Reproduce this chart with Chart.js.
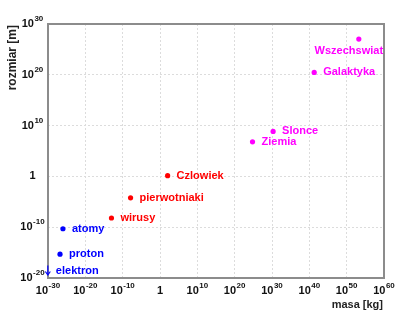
<!DOCTYPE html>
<html>
<head>
<meta charset="utf-8">
<script src="https://cdn.jsdelivr.net/npm/chart.js@4/dist/chart.umd.min.js"></script>
<style>
  html, body { margin: 0; padding: 0; background: #fff; }
  #wrap { width: 400px; height: 320px; }
</style>
</head>
<body>
<div id="wrap"><canvas id="c"></canvas></div>
<script>
/* rozmiar vs masa — od elektronu do Wszechświata (skala log-log) */

// dane: [masa kg, rozmiar m]
var smallNames  = ['elektron', 'proton', 'atomy'];
var smallMass   = [9.1e-31, 1.67e-27, 1e-26];
var smallSize   = [3e-19, 5e-16, 5e-11];

var lifeNames   = ['wirusy', 'pierwotniaki', 'Czlowiek'];
var lifeMass    = [1e-13, 1.3e-8, 110];
var lifeSize    = [6.5e-9, 6e-5, 1.4];

var cosmosNames = ['Ziemia', 'Slonce', 'Galaktyka', 'Wszechswiat'];
var cosmosMass  = [6e24, 2e30, 2e41, 1.8e53];
var cosmosSize  = [6.4e6, 7e8, 3e20, 1.1e27];

// osie: wykładniki co 10 dekad
var xExps = [-30, -20, -10, 0, 10, 20, 30, 40, 50, 60];
var yExps = [-20, -10, 0, 10, 20, 30];

var upperLimit = ['elektron'];      // rysowane strzałką w dół
var labelBelow = ['Wszechswiat'];   // podpis pod punktem

var FONT = '"Liberation Sans", Arial, Helvetica, sans-serif';

function pts(m, s) { return m.map(function (v, i) { return { x: v, y: s[i] }; }); }
function ds(names, m, s, color) {
  return {
    label: names.join(', '), names: names, data: pts(m, s),
    backgroundColor: color, borderWidth: 0,
    pointRadius: names.map(function (n) { return upperLimit.indexOf(n) >= 0 ? 0 : 2.6; }),
    pointHoverRadius: 2.6,
  };
}

function drawPow(ctx, exp, x, y, align) {
  // "10^exp" z indeksem górnym; align: 'center' albo punkt środka
  var base = exp === 0 ? '1' : '10', sup = exp === 0 ? '' : String(exp);
  ctx.font = 'bold 11px ' + FONT;
  var wb = ctx.measureText(base).width;
  ctx.font = 'bold 8px ' + FONT;
  var ws = sup ? ctx.measureText(sup).width + 0.5 : 0;
  var x0 = x - (wb + ws) / 2;
  ctx.textAlign = 'left'; ctx.textBaseline = 'middle'; ctx.fillStyle = '#111';
  ctx.font = 'bold 11px ' + FONT;
  ctx.fillText(base, x0, y);
  if (sup) { ctx.font = 'bold 8px ' + FONT; ctx.fillText(sup, x0 + wb + 0.5, y - 5); }
}

var decor = {
  id: 'decor',
  beforeDatasetsDraw: function (chart) {
    var ctx = chart.ctx, a = chart.chartArea;
    ctx.save();
    ctx.strokeStyle = '#8c8c8c'; ctx.lineWidth = 2;
    ctx.strokeRect(a.left, a.top, a.right - a.left, a.bottom - a.top);
    ctx.restore();
  },
  afterDatasetsDraw: function (chart) {
    var ctx = chart.ctx, a = chart.chartArea;
    var xs = chart.scales.x, ys = chart.scales.y;
    ctx.save();
    // etykiety osi
    xExps.forEach(function (e) { drawPow(ctx, e, xs.getPixelForValue(Math.pow(10, e)), a.bottom + 13); });
    yExps.forEach(function (e) { drawPow(ctx, e, 32.5, ys.getPixelForValue(Math.pow(10, e))); });

    ctx.fillStyle = '#222';
    ctx.font = 'bold 11px ' + FONT;
    ctx.textAlign = 'right'; ctx.textBaseline = 'middle';
    ctx.fillText('masa [kg]', a.right - 1, a.bottom + 27);
    ctx.save();
    ctx.translate(13, a.top + 1); ctx.rotate(-Math.PI / 2);
    ctx.textAlign = 'right'; ctx.font = 'bold 12px ' + FONT;
    ctx.fillText('rozmiar [m]', 0, 0);
    ctx.restore();

    // podpisy punktów
    chart.data.datasets.forEach(function (d, di) {
      var meta = chart.getDatasetMeta(di);
      ctx.fillStyle = d.backgroundColor; ctx.strokeStyle = d.backgroundColor;
      ctx.font = 'bold 11px ' + FONT; ctx.textBaseline = 'middle';
      meta.data.forEach(function (el, i) {
        var n = d.names[i];
        if (upperLimit.indexOf(n) >= 0) {
          ctx.lineWidth = 1.2;
          ctx.beginPath(); ctx.moveTo(el.x, el.y - 5); ctx.lineTo(el.x, el.y + 4); ctx.stroke();
          ctx.beginPath(); ctx.moveTo(el.x - 2.5, el.y + 1); ctx.lineTo(el.x, el.y + 4.5); ctx.lineTo(el.x + 2.5, el.y + 1); ctx.stroke();
          ctx.textAlign = 'left'; ctx.fillText(n, el.x + 8, el.y);
        } else if (labelBelow.indexOf(n) >= 0) {
          ctx.textAlign = 'center'; ctx.fillText(n, el.x - 10, el.y + 12);
        } else {
          ctx.textAlign = 'left'; ctx.fillText(n, el.x + 9, el.y);
        }
      });
    });
    ctx.restore();
  }
};

function logAxis(exps) {
  return {
    type: 'logarithmic',
    min: Math.pow(10, exps[0]), max: Math.pow(10, exps[exps.length - 1]),
    afterBuildTicks: function (s) { s.ticks = exps.map(function (e) { return { value: Math.pow(10, e) }; }); },
    ticks: { display: false },
    grid: { color: '#dcdcdc', lineWidth: 1, drawTicks: false },
    border: { display: false, dash: [2, 2] },
  };
}

new Chart(document.getElementById('c'), {
  type: 'scatter',
  data: {
    datasets: [
      ds(smallNames, smallMass, smallSize, '#0000ff'),
      ds(lifeNames, lifeMass, lifeSize, '#ff0000'),
      ds(cosmosNames, cosmosMass, cosmosSize, '#ff00ff'),
    ]
  },
  options: {
    responsive: true, maintainAspectRatio: false, animation: false,
    layout: { padding: { left: 48, top: 24, right: 16, bottom: 42 } },
    plugins: { legend: { display: false }, tooltip: { enabled: false } },
    scales: { x: logAxis(xExps), y: logAxis(yExps) },
  },
  plugins: [decor],
});
</script>
</body>
</html>
